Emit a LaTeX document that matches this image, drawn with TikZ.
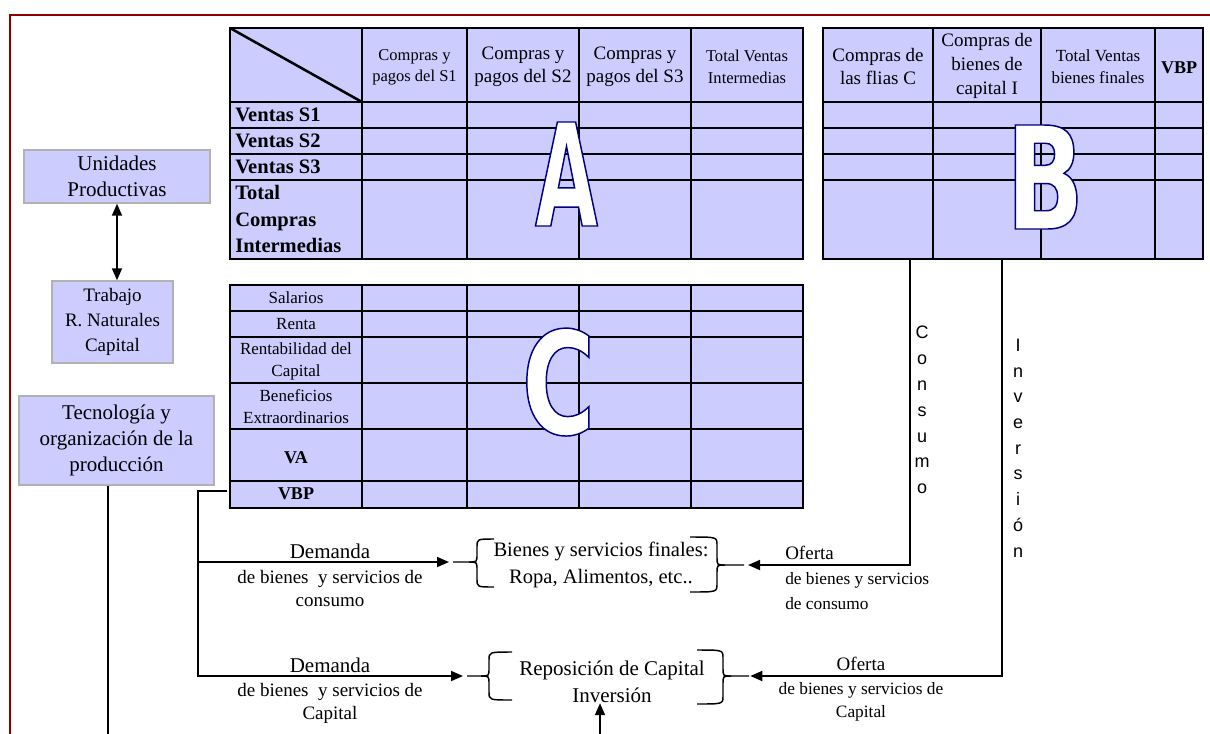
\documentclass[tikz,border=0pt]{standalone}
\usepackage{fontspec}
\setmainfont{Liberation Serif}
\newfontfamily\arialf{Liberation Sans}
\newfontfamily\bigA{DejaVu Sans Bold}[FakeStretch=0.57]
\newfontfamily\bigB{DejaVu Sans Bold}[FakeStretch=0.72]
\newfontfamily\bigC{DejaVu Sans Bold}[FakeStretch=0.70]
\usetikzlibrary{arrows.meta}
\definecolor{lav}{RGB}{204,204,255}
\definecolor{framered}{RGB}{140,0,0}
\definecolor{boxgray}{RGB}{178,178,178}
\newcommand{\fsz}[2]{\fontsize{#1pt}{#2pt}\selectfont}
\newcommand{\outl}[1]{\special{pdf:literal direct q 2 Tr 1.1 w 0 0 0.5 RG}#1\special{pdf:literal direct Q}}
\newcommand{\brc}[7]{%
  \draw[brc] (#6,#4) .. controls (#3,#4) .. (#3,{#4+8}) -- (#3,{#2-8}) .. controls (#3,#2) .. ({#3+(#7)},#2) -- (#1,#2);
  \draw[brc] (#6,#5) .. controls (#3,#5) .. (#3,{#5-8}) -- (#3,{#2+8}) .. controls (#3,#2) .. ({#3+(#7)},#2);
}
\begin{document}
\begin{tikzpicture}[x=0.75pt,y=-0.75pt,
  grid/.style={line width=1.9pt,black},
  conn/.style={line width=1.3pt,black},
  arr/.style={conn,-{Triangle[length=9pt,width=7.5pt]}},
  dblarr/.style={conn,{Triangle[length=9pt,width=7.5pt]}-{Triangle[length=9pt,width=7.5pt]}},
  brc/.style={line width=1.1pt,black},
  lbox/.style={fill=lav,draw=boxgray,line width=1.1pt,align=center,inner sep=0},
  txt/.style={inner sep=0,align=center},
  big/.style={inner sep=0,anchor=base,text=white}]

\useasboundingbox (0,0) rectangle (1210,733);
\fill[white] (0,0) rectangle (1210,733);

% frame
\draw[framered,line width=1.6pt] (10,745) -- (10,15) -- (1220,15);

% Table A
\fill[lav] (230,28) rectangle (803,259);
\foreach \x in {362,467,579,691} \draw[grid] (\x,28) -- (\x,259);
\foreach \y in {102,128,154,180} \draw[grid] (230,\y) -- (803,\y);
\draw[grid] (230,28) rectangle (803,259);
\draw[grid] (230,28) -- (362,102);

% Table B
\fill[lav] (823,28) rectangle (1203,259);
\foreach \x in {933,1041,1155} \draw[grid] (\x,28) -- (\x,259);
\foreach \y in {102,128,154,180} \draw[grid] (823,\y) -- (1203,\y);
\draw[grid] (823,28) rectangle (1203,259);

% Table C
\fill[lav] (230,285) rectangle (803,508);
\foreach \x in {362,467,579,691} \draw[grid] (\x,285) -- (\x,508);
\foreach \y in {311,337,383,429,481} \draw[grid] (230,\y) -- (803,\y);
\draw[grid] (230,285) rectangle (803,508);

% headers A
\node[txt,font=\fsz{12.4}{15.75}] (hA1) at (414.5,67) {Compras y\\pagos del S1};
\node[txt,font=\fsz{14.25}{17.25}] (hA2) at (523,66.5) {Compras y\\pagos del S2};
\node[txt,font=\fsz{14.25}{17.25}] (hA3) at (635,66.5) {Compras y\\pagos del S3};
\node[txt,font=\fsz{12.4}{16.5}] (hA4) at (747,67) {Total Ventas\\Intermedias};
% headers B
\node[txt,font=\fsz{14.25}{17.25}] (hB1) at (878,66.5) {Compras de\\las flias C};
\node[txt,font=\fsz{14.25}{18}] (hB2) at (987,66) {Compras de\\bienes de\\capital I};
\node[txt,font=\fsz{12.75}{16.5}] (hB3) at (1098,67) {Total Ventas\\bienes finales};
\node[txt,font=\bfseries\fsz{13.5}{16}] (hB4) at (1179,68) {VBP};
% rows A
\node[txt,anchor=west,font=\bfseries\fsz{15.4}{19.9}] (rS1) at (235,115) {Ventas S1};
\node[txt,anchor=west,font=\bfseries\fsz{15.4}{19.9}] (rS2) at (235,141) {Ventas S2};
\node[txt,anchor=west,font=\bfseries\fsz{15.4}{19.9}] (rS3) at (235,167) {Ventas S3};
\node[txt,anchor=west,align=left,font=\bfseries\fsz{15.4}{19.9}] (rTot) at (235,219) {Total\\Compras\\Intermedias};
% rows C
\node[txt,font=\fsz{12.75}{16.5}] (cSal) at (296,298) {Salarios};
\node[txt,font=\fsz{12.75}{16.5}] (cRen) at (296,324) {Renta};
\node[txt,font=\fsz{12.75}{16.5}] (cRk) at (296,361) {Rentabilidad del\\Capital};
\node[txt,font=\fsz{12.75}{16.5}] (cBen) at (296,407) {Beneficios\\Extraordinarios};
\node[txt,font=\bfseries\fsz{13.5}{16}] (cVA) at (296,458) {VA};
\node[txt,font=\bfseries\fsz{13.5}{16}] (cVBP) at (296,494) {VBP};

% big letters
\node[big,font=\bigA\fsz{107}{107}] (LA) at (566.5,226) {\outl{A}};
\node[big,font=\bigB\fsz{107}{107}] (LB) at (1045,229) {\outl{B}};
\node[big,font=\bigC\fsz{107}{107}] (LC) at (558.5,434) {\outl{C}};

% left boxes
\node[lbox,minimum width=139.5pt,minimum height=39.75pt,font=\fsz{15.75}{19.5}] (unid) at (117,176.5) {Unidades\\Productivas};
\node[lbox,minimum width=90.75pt,minimum height=61.5pt,font=\fsz{14.25}{18.75}] (trab) at (112.5,322) {Trabajo\\R. Naturales\\Capital};
\node[lbox,minimum width=146.25pt,minimum height=66.75pt,font=\fsz{15.75}{19.5}] (tec) at (116.5,440.5) {Tecnología y\\organización de la\\producción};

% vertical words
\node[txt,font=\arialf\fsz{13.5}{19.4}] (vcons) at (922,410) {C\\o\\n\\s\\u\\m\\o};
\node[txt,font=\arialf\fsz{13.5}{19.3}] (vinv) at (1018,448) {I\\n\\v\\e\\r\\s\\i\\ó\\n};

% demand / supply labels
\node[txt,font=\fsz{15.75}{19}] (dem1) at (330,551) {Demanda};
\node[txt,font=\fsz{14.25}{17.25}] (dem1d) at (330,588.5) {de bienes\ \ y servicios de\\consumo};
\node[txt,font=\fsz{15.75}{19}] (dem2) at (330,665) {Demanda};
\node[txt,font=\fsz{14.25}{17.25}] (dem2d) at (330,703) {de bienes\ \ y servicios de\\Capital};
\node[txt,font=\fsz{15.4}{20.25}] (bienes) at (601,565) {Bienes y servicios finales:\\Ropa, Alimentos, etc..};
\node[txt,font=\fsz{15.75}{20.25}] (repos) at (612,682) {Reposición de Capital\\Inversión};
\node[txt,anchor=west,font=\fsz{14.25}{18}] (of1) at (785,553) {Oferta};
\node[txt,anchor=west,align=left,font=\fsz{13}{18.75}] (of1d) at (785,591) {de bienes y servicios\\de consumo};
\node[txt,font=\fsz{14.25}{18}] (of2) at (861,664) {Oferta};
\node[txt,font=\fsz{13}{17.25}] (of2d) at (861,701.5) {de bienes y servicios de\\Capital};

% coordinates
\coordinate (vbpa) at (227,491);
\coordinate (vbpc) at (198,491);
\coordinate (sp1) at (198,562);
\coordinate (L1) at (453,562);
\coordinate (L2) at (467,676);
\coordinate (R1) at (744,565);
\coordinate (R2) at (749,676);
\coordinate (bC) at (910,259);
\coordinate (bI) at (1002,259);
\coordinate (upb) at (600,745);
\coordinate (tecl) at (108,745);

% braces
\brc{453}{562}{477}{539}{587}{494}{-8}
\brc{744}{565}{717}{537}{592}{690}{8}
\brc{467}{676}{489}{652}{700}{512}{-8}
\brc{749}{676}{723}{650}{704}{697}{8}

% connectors
\draw[arr,shorten >=3pt] (vbpa) -- (vbpc) |- (L2);
\draw[arr,shorten >=3pt] (sp1) -- (L1);
\draw[arr,shorten >=3pt] (bC) |- (R1);
\draw[arr,shorten >=1pt] (bI) |- (R2);
\draw[dblarr] (unid.south) -- (unid.south |- trab.north);
\draw[arr] (upb) -- (upb |- repos.south);
\draw[conn] (tec.south -| tecl) -- (tecl);
\end{tikzpicture}
\end{document}
